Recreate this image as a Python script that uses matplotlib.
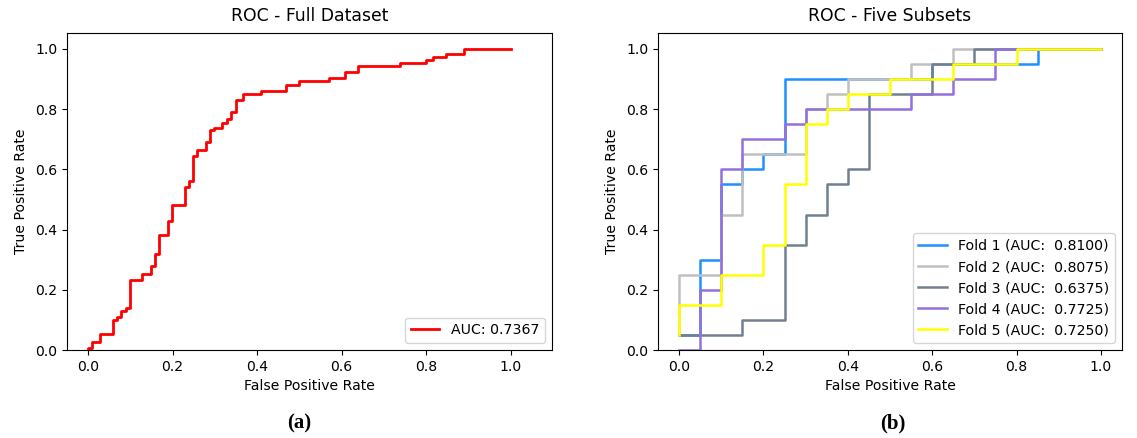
import matplotlib
matplotlib.use('Agg')
import matplotlib.pyplot as plt

# full dataset ROC
full_fpr = [0.0, 0.0, 0.0095, 0.0095, 0.028, 0.028, 0.058, 0.058, 0.069, 0.069, 0.079, 0.079,
            0.089, 0.089, 0.099, 0.099, 0.127, 0.127, 0.148, 0.148, 0.159, 0.159, 0.168, 0.168,
            0.189, 0.189, 0.198, 0.198, 0.229, 0.229, 0.238, 0.238, 0.248, 0.248, 0.257, 0.257,
            0.279, 0.279, 0.288, 0.288, 0.298, 0.298, 0.318, 0.318, 0.328, 0.328, 0.339, 0.339,
            0.349, 0.349, 0.367, 0.367, 0.409, 0.409, 0.468, 0.468, 0.498, 0.498, 0.571, 0.571,
            0.608, 0.608, 0.639, 0.639, 0.738, 0.738, 0.80, 0.80, 0.817, 0.817, 0.847, 0.847,
            0.889, 0.889, 1.0]
full_tpr = [0.0, 0.008, 0.008, 0.028, 0.028, 0.052, 0.052, 0.100, 0.100, 0.111, 0.111, 0.130,
            0.130, 0.141, 0.141, 0.232, 0.232, 0.252, 0.252, 0.280, 0.280, 0.319, 0.319, 0.382,
            0.382, 0.430, 0.430, 0.483, 0.483, 0.541, 0.541, 0.560, 0.560, 0.643, 0.643, 0.663,
            0.663, 0.691, 0.691, 0.732, 0.732, 0.739, 0.739, 0.754, 0.754, 0.766, 0.766, 0.789,
            0.789, 0.832, 0.832, 0.852, 0.852, 0.860, 0.860, 0.880, 0.880, 0.894, 0.894, 0.904,
            0.904, 0.924, 0.924, 0.943, 0.943, 0.952, 0.952, 0.963, 0.963, 0.974, 0.974, 0.983,
            0.983, 1.0, 1.0]
full_auc = 0.7367

# five folds
fold_fpr = [
    [0, 0.05, 0.05, 0.1, 0.1, 0.15, 0.15, 0.2, 0.2, 0.25, 0.25, 0.6, 0.6, 0.85, 0.85, 1.0],
    [0, 0, 0.1, 0.1, 0.15, 0.15, 0.3, 0.3, 0.35, 0.35, 0.4, 0.4, 0.55, 0.55, 0.65, 0.65, 1.0],
    [0, 0.15, 0.15, 0.25, 0.25, 0.3, 0.3, 0.35, 0.35, 0.4, 0.4, 0.45, 0.45, 0.6, 0.6, 0.7, 0.7, 1.0],
    [0, 0.05, 0.05, 0.1, 0.1, 0.15, 0.15, 0.25, 0.25, 0.3, 0.3, 0.55, 0.55, 0.65, 0.65, 0.75, 0.75, 1.0],
    [0, 0, 0.1, 0.1, 0.2, 0.2, 0.25, 0.25, 0.3, 0.3, 0.35, 0.35, 0.4, 0.4, 0.5, 0.5, 0.65, 0.65,
     0.8, 0.8, 1.0],
]
fold_tpr = [
    [0.05, 0.05, 0.3, 0.3, 0.55, 0.55, 0.6, 0.6, 0.65, 0.65, 0.9, 0.9, 0.95, 0.95, 1.0, 1.0],
    [0.05, 0.25, 0.25, 0.45, 0.45, 0.65, 0.65, 0.8, 0.8, 0.85, 0.85, 0.9, 0.9, 0.95, 0.95, 1.0, 1.0],
    [0.05, 0.05, 0.1, 0.1, 0.35, 0.35, 0.45, 0.45, 0.55, 0.55, 0.6, 0.6, 0.85, 0.85, 0.95, 0.95, 1.0, 1.0],
    [0, 0, 0.2, 0.2, 0.6, 0.6, 0.7, 0.7, 0.75, 0.75, 0.8, 0.8, 0.85, 0.85, 0.9, 0.9, 1.0, 1.0],
    [0.05, 0.15, 0.15, 0.25, 0.25, 0.35, 0.35, 0.55, 0.55, 0.75, 0.75, 0.8, 0.8, 0.85, 0.85, 0.9,
     0.9, 0.95, 0.95, 1.0, 1.0],
]
fold_auc = [0.8100, 0.8075, 0.6375, 0.7725, 0.7250]
fold_colors = ['dodgerblue', 'silver', 'slategray', 'mediumpurple', 'yellow']

plt.rcParams['font.size'] = 10.1
plt.rcParams['legend.fontsize'] = 10.2

fig = plt.figure(figsize=(11.37, 4.38), dpi=100)
ax1 = fig.add_axes([0.0589, 0.2009, 0.4266, 0.7237])
ax2 = fig.add_axes([0.5787, 0.2009, 0.4081, 0.7237])

ax1.plot(full_fpr, full_tpr, color='red', lw=2, label='AUC: %.4f' % full_auc)
ax1.set_xlim(-0.05, 1.098)
ax1.set_ylim(0, 1.053)
ax1.set_title('ROC - Full Dataset', fontsize=12.4, pad=9)
ax1.set_xlabel('False Positive Rate')
ax1.set_ylabel('True Positive Rate', labelpad=5)
ax1.legend(loc='lower right')

for i in range(5):
    ax2.plot(fold_fpr[i], fold_tpr[i], color=fold_colors[i], lw=1.8,
             label='Fold %d (AUC:  %.4f)' % (i + 1, fold_auc[i]))
ax2.set_xlim(-0.05, 1.05)
ax2.set_ylim(0, 1.053)
ax2.set_title('ROC - Five Subsets', fontsize=12.4, pad=9)
ax2.set_xlabel('False Positive Rate')
ax2.set_ylabel('True Positive Rate', labelpad=5)
ax2.legend(loc='lower right')

fig.text(0.263, 0.034, '(a)', ha='center', va='center', fontsize=15,
         fontweight='bold', family='Liberation Serif')
fig.text(0.785, 0.034, '(b)', ha='center', va='center', fontsize=15,
         fontweight='bold', family='Liberation Serif')

fig.savefig('out.png', dpi=100)
